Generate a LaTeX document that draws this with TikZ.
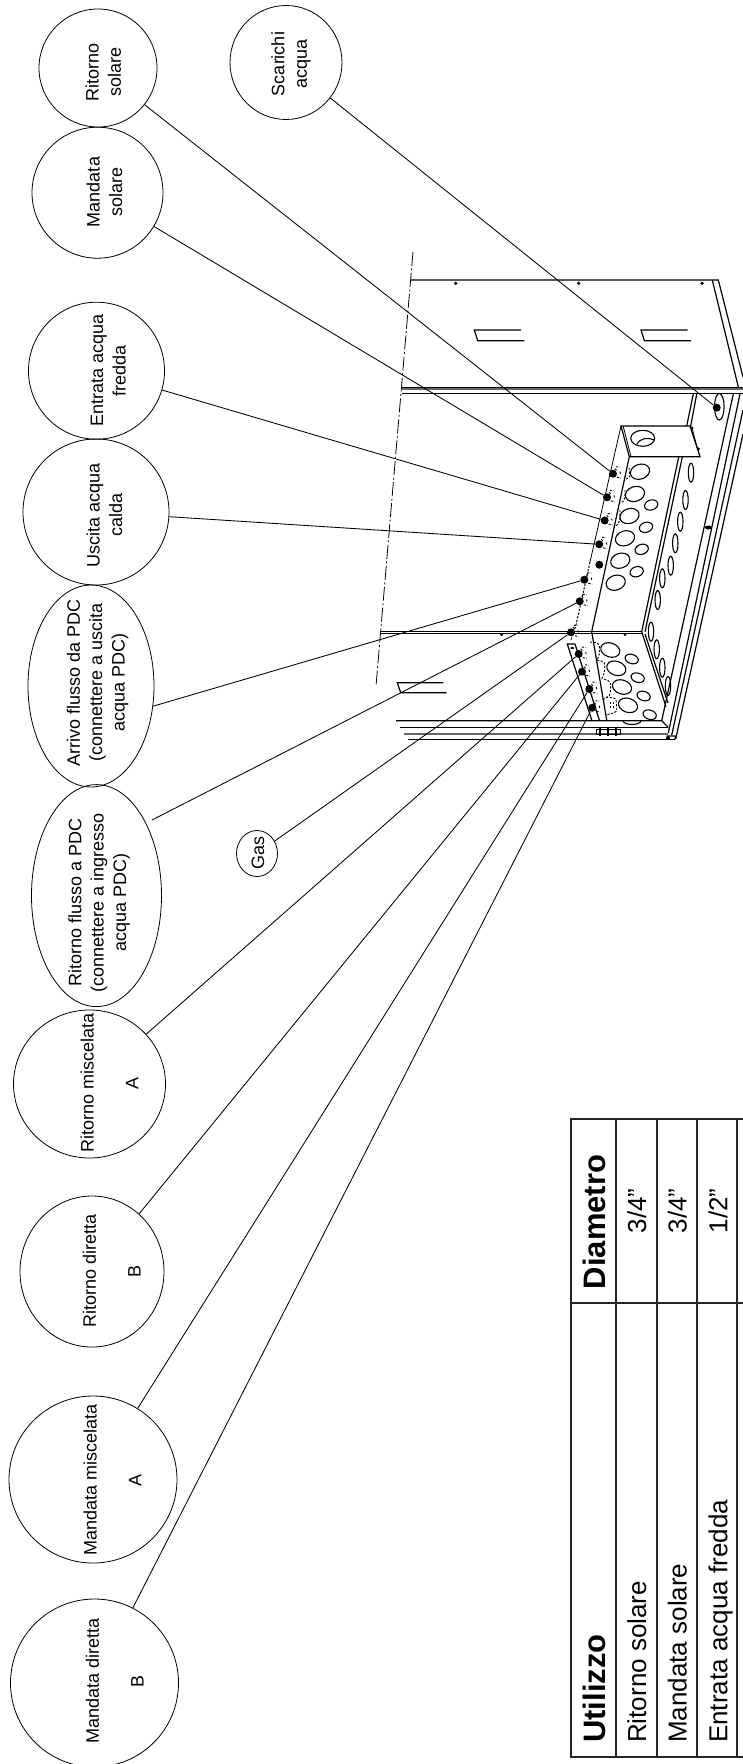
\documentclass[tikz,border=0pt]{standalone}
\usepackage{fontspec}
\setmainfont{Liberation Sans}
\usetikzlibrary{shapes.geometric}
\tikzset{
  bubble/.style={draw,ellipse,inner sep=0pt,line width=0.8pt},
  tag/.style={rotate=90,align=center,inner sep=0pt,font=\fontsize{18}{22.4}\selectfont},
  dot/.style={circle,fill=black,inner sep=0pt,minimum size=8pt},
  lead/.style={line width=0.85pt},
  cab/.style={line width=1.2pt},
  cabthin/.style={line width=0.8pt},
  band/.style={line width=2pt,black!60},
  hole/.style={line width=1.1pt},
  fitdash/.style={line width=0.9pt,dash pattern=on 2.2pt off 1.5pt},
  grid/.style={line width=1.7pt,black!85},
  cell/.style={rotate=90,inner sep=0pt,font=\fontsize{26}{30}\selectfont},
  headcell/.style={rotate=90,inner sep=0pt,font=\fontsize{31}{36}\selectfont\bfseries},
  fitmark/.pic={
    \draw[fitdash] (3,-7) -- (7,-6.5);
    \draw[fitdash] (7,-2) -- (7.5,1);
    \draw[fitdash] (4,3.5) -- (8,4.5);
    \draw[fitdash] (2,-5) -- (4,-3);
  }
}
\begin{document}
\begin{tikzpicture}[x=1pt,y=-1pt]
\useasboundingbox (0,0) rectangle (743,1764);
\draw[cab] (411,280) -- (718.3,280) -- (743,377);
\draw[cab] (712.3,280) -- (738.3,387);
\draw[cabthin] (401.7,387) -- (743,387);
\draw[band] (401.7,389) -- (743,389);
\draw[cab] (401.7,393.3) -- (743,393.3);
\draw[cabthin,dash pattern=on 14pt off 2.5pt on 2pt off 2.5pt] (413,252) -- (376,686);
\foreach \xa in {455.7,578.7,702} \fill (\xa,283.3) circle (1.8);
\foreach \xa in {474.3,641} {
  \draw[cab] (\xa+46.7,330) -- (\xa,330) -- (\xa+3.4,340.7) -- (\xa+50,340.7);
}
\draw[cab] (693.3,394) -- (686.7,426);
\draw[cab] (696.7,394) -- (690.7,426);
\draw[hole] (719.3,406.7) ellipse [x radius=4.8,y radius=13.3];
\draw[cab] (629.3,456.7) -- (621,426) -- (690,426) -- (700,456.7) -- cycle;
\draw[cabthin] (623.3,426.7) -- (631,456.7);
\draw[cabthin] (691.7,426.7) -- (697.5,449);
\fill (692,428) circle (1.6);
\fill (698.5,449) circle (1.6);
\draw[hole] (642.7,438.3) ellipse [x radius=12,y radius=8];
\draw[hole] (637,444) .. controls (641,438) and (647,437) .. (654,440);
\draw[cab] (678.7,457) -- (641.7,631.7);
\draw[cab] (682.3,457) -- (645,631.7);
\draw[cab] (641.7,631.7) -- (666,706.7);
\draw[cab] (645,634) -- (668,703);
\draw[cab] (733.3,394) -- (661.7,720.7);
\draw[cab] (740,394) -- (668.3,733);
\draw[cab] (743,410) -- (671.7,735);
\draw[cab] (743,434) -- (675.7,739);
\fill (708.3,527.5) ellipse [x radius=3.4,y radius=2];
\draw[cabthin] (621,426) -- (590,562);
\draw[fitdash,line width=1pt] (590,562) -- (576,625) -- (571,640);
\draw[cab] (629.3,456.7) -- (591.7,631.7) -- (606.7,720);
\draw[cabthin] (380,631.7) -- (641.7,631.7);
\draw[cabthin] (380,633.4) -- (643,633.4);
\fill (501.7,634.6) circle (1.6);
\fill (625,634.6) circle (1.6);
\draw[cab] (443.3,682.7) -- (397.3,682.7) -- (400.7,692.7) -- (446.7,692.7);
\draw[cab] (575,644) -- (567.3,644) -- (591.7,720);
\draw[cab] (575,644) -- (599.3,720);
\fill (572.3,648) ellipse [x radius=2,y radius=1];
\draw[cab] (396,720.7) -- (661.7,720.7) -- (668.3,727.5);
\draw[cab] (400,727.7) -- (668.3,727.7);
\draw[band] (404.3,733.7) -- (668.3,733.7);
\draw[cab] (408.3,739.7) -- (675,739.7);
\draw[cab] (666.7,736) -- (676,736) -- (674.5,739.7);
\fill (668,738) circle (2);
\draw[cabthin] (596.7,729) rectangle (620.5,734.8);
\foreach \xa in {600,608,616} \draw[cab] (\xa,727.5) -- (\xa,735.5);
\foreach \xa/\ya in {640/471.7,635/494,629.5/516,625/538.3,620.3/560.7,615.7/582.7} {
  \draw[hole] (\xa,\ya) ellipse [x radius=9.8,y radius=7.4,rotate=18];
}
\foreach \xa/\ya in {651.2/505,646/527.3,641.7/549.3,636.7/571.7} {
  \draw[hole] (\xa,\ya) ellipse [x radius=6.8,y radius=5,rotate=18];
}
\foreach \xa/\ya in {610.3/650,616.3/668.3,622/687,628/705.3} {
  \draw[hole] (\xa,\ya) ellipse [x radius=9.8,y radius=7,rotate=-18];
}
\foreach \xa/\ya in {631.7/659,637.7/677.7,643.7/696,649.7/714.7} {
  \draw[hole] (\xa,\ya) ellipse [x radius=6.8,y radius=4.6,rotate=-18];
}
\draw[hole] (623,720.7) arc [start angle=180,end angle=0,x radius=9,y radius=3.8];
\foreach \xa/\ya in {691/472.7,685.5/500,680.3/521.7,675.3/543.3,670.7/565.7,662.3/578.3,657.7/600,651/631.7,656.7/649.3,662.3/667.7,668/686} {
  \draw[hole] (\xa,\ya) ellipse [x radius=2.7,y radius=9.5];
}
\draw[fitdash,rounded corners=3pt] (590,642) -- (599,643) -- (600,652) -- (597,661);
\draw[fitdash,rounded corners=3pt] (597,660) -- (605,662) -- (604.5,673) -- (601,680);
\draw[fitdash,rounded corners=3pt] (604,679) -- (611,682) -- (610,696) -- (602,700);
\draw[fitdash,rounded corners=3pt] (606,697) -- (616,698) -- (617,712) -- (606,715);
\draw[fitdash] (610,708) -- (610,702);
\draw[fitdash] (613,708) -- (613,702);
\draw[fitdash] (629,468) .. controls (630,476) and (631,478) .. (626,479);
\draw[fitdash] (625,490) .. controls (625,498) and (625,502) .. (620,503);
\draw[fitdash] (620,510) .. controls (620,520) and (620,524) .. (614,527);

\node[dot] (ra) at (613,473.7) {};
\node[dot] (ms) at (607,497.3) {};
\node[dot] (ef) at (604.7,520.5) {};
\node[dot] (uc) at (599.2,544.3) {};
\node[dot] (xx) at (599.3,564.7) {};
\node[dot] (ap) at (584.3,579.7) {};
\node[dot] (rp) at (579.7,601.3) {};
\node[dot] (gs) at (571,632.3) {};
\node[dot] (rm) at (578.7,654) {};
\node[dot] (rd) at (582,671.7) {};
\node[dot] (mm) at (589.3,689) {};
\node[dot] (md) at (592.3,707.7) {};
\node[dot] (sc) at (716.7,407.7) {};
\foreach \pt in {ra,ms,ef,uc,ap,rp,gs,rm,rd,mm,md} \pic at (\pt) {fitmark};

\node[bubble,minimum width=118pt,minimum height=118pt] (rsol) at (98,68) {};
\node[bubble,minimum width=131pt,minimum height=131pt] (msol) at (97.5,192.7) {};
\node[bubble,minimum width=136pt,minimum height=137pt] (efre) at (96.5,370.7) {};
\node[bubble,minimum width=146pt,minimum height=146pt] (ucal) at (96,512) {};
\node[bubble,minimum width=112pt,minimum height=114pt] (scar) at (286,62.5) {};
\node[bubble,minimum width=126pt,minimum height=202pt] (apdc) at (91,686) {};
\node[bubble,minimum width=130pt,minimum height=222pt] (rpdc) at (96.5,895.6) {};
\node[bubble,minimum width=41pt,minimum height=46pt] (gas) at (257,853.5) {};
\node[bubble,minimum width=152pt,minimum height=148pt] (rmis) at (89.5,1084) {};
\node[bubble,minimum width=144pt,minimum height=151pt] (rdir) at (92,1271.5) {};
\node[bubble,minimum width=168pt,minimum height=167pt] (mmis) at (93,1479.5) {};
\node[bubble,minimum width=168pt,minimum height=168pt] (mdir) at (94.5,1683) {};

\node[tag] (rsoltext) at (103.3,72) {Ritorno\\solare};
\node[tag] (msoltext) at (104.5,192) {Mandata\\solare};
\node[tag] (efretext) at (108.3,370.5) {Entrata acqua\\fredda};
\node[tag] (ucaltext) at (104.5,515) {Uscita acqua\\calda};
\node[tag] (scartext) at (291,64) {Scarichi\\acqua};
\node[tag] (apdctext) at (97.5,682.5) {Arrivo flusso da PDC\\(connettere a uscita\\acqua PDC)};
\node[tag] (rpdctext) at (99,902.5) {Ritorno flusso a PDC\\(connettere a ingresso\\acqua PDC)};
\node[tag] (gastext) at (258,853) {Gas};
\node[tag] (rmistext) at (109.5,1083) {Ritorno miscelata\\ \\A};
\node[tag] (rdirtext) at (111.7,1271) {Ritorno diretta\\ \\B};
\node[tag] (mmistext) at (112.5,1480) {Mandata miscelata\\ \\A};
\node[tag] (mdirtext) at (114.7,1681) {Mandata diretta\\ \\B};

\draw[lead] (rsol) -- (ra);
\draw[lead] (msol) -- (ms);
\draw[lead] (efre) -- (ef);
\draw[lead] (ucal) -- (uc);
\draw[lead] (apdc.-18) -- (ap);
\coordinate (rpdcend) at (152,820);
\draw[lead] (rpdcend) -- (rp);
\draw[lead] (gas) -- (gs);
\draw[lead] (rmis) -- (rm);
\draw[lead] (rdir) -- (rd);
\draw[lead] (mmis) -- (mm);
\draw[lead] (mdir) -- (md);
\draw[lead] (scar) -- (sc);

\draw[grid] (743,1119.3) -- (571,1119.3) -- (571,1756.7) -- (743,1756.7);
\draw[grid] (571,1303.3) -- (743,1303.3);
\foreach \xa in {615.7,656.7,697,737.3} \draw[grid] (\xa,1119.3) -- (\xa,1756.7);
\node[headcell,anchor=base west] (useh) at (605,1743) {Utilizzo};
\node[headcell,anchor=base] (diah) at (605,1222) {Diametro};
\node[cell,anchor=base west] (use1) at (646,1743) {Ritorno solare};
\node[cell,anchor=base west] (use2) at (686.7,1743) {Mandata solare};
\node[cell,anchor=base west] (use3) at (727.3,1743) {Entrata acqua fredda};
\node[cell,anchor=base] (dia1) at (646,1211) {3/4”};
\node[cell,anchor=base] (dia2) at (686.7,1211) {3/4”};
\node[cell,anchor=base] (dia3) at (727.3,1211) {1/2”};
\end{tikzpicture}
\end{document}
